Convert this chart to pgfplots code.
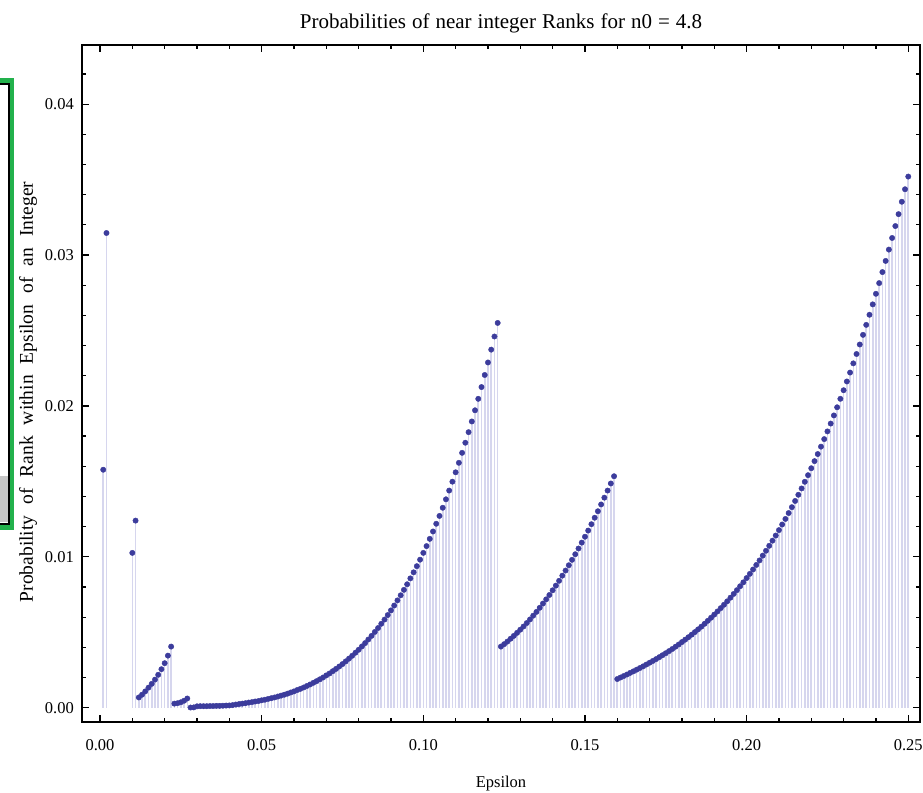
\documentclass[border=0pt]{standalone}
\usepackage{fontspec}
\setmainfont{Liberation Serif}
\usepackage{pgfplots}
\usepackage{pgfplotstable}
\pgfplotsset{compat=1.18}
\definecolor{dotcol}{RGB}{60,60,156}
\definecolor{stemcol}{RGB}{214,214,238}
\definecolor{boxgreen}{RGB}{34,177,76}
\newcommand{\ts}{\hspace{6pt}}
\newcommand{\ls}{\hspace{11pt}}
\pgfplotstableread{
x y
0.001 0.01577
0.002 0.03146
0.010 0.01026
0.011 0.01240
0.012 0.00068
0.013 0.00086
0.014 0.00108
0.015 0.00133
0.016 0.00158
0.017 0.00186
0.018 0.00218
0.019 0.00255
0.020 0.00295
0.021 0.00345
0.022 0.00405
0.023 0.00027
0.024 0.00030
0.025 0.00036
0.026 0.00046
0.027 0.00061
0.028 0.00001
0.029 0.00002
0.030 0.00009
0.031 0.00010
0.032 0.00010
0.033 0.00010
0.034 0.00011
0.035 0.00011
0.036 0.00012
0.037 0.00012
0.038 0.00013
0.039 0.00014
0.040 0.00015
0.041 0.00017
0.042 0.00021
0.043 0.00024
0.044 0.00027
0.045 0.00030
0.046 0.00034
0.047 0.00037
0.048 0.00041
0.049 0.00044
0.050 0.00049
0.051 0.00053
0.052 0.00058
0.053 0.00063
0.054 0.00068
0.055 0.00074
0.056 0.00080
0.057 0.00086
0.058 0.00093
0.059 0.00101
0.060 0.00108
0.061 0.00117
0.062 0.00125
0.063 0.00134
0.064 0.00144
0.065 0.00154
0.066 0.00165
0.067 0.00176
0.068 0.00188
0.069 0.00200
0.070 0.00214
0.071 0.00227
0.072 0.00242
0.073 0.00257
0.074 0.00273
0.075 0.00289
0.076 0.00307
0.077 0.00325
0.078 0.00344
0.079 0.00364
0.080 0.00384
0.081 0.00406
0.082 0.00428
0.083 0.00452
0.084 0.00476
0.085 0.00502
0.086 0.00528
0.087 0.00556
0.088 0.00584
0.089 0.00614
0.090 0.00645
0.091 0.00677
0.092 0.00711
0.093 0.00745
0.094 0.00781
0.095 0.00818
0.096 0.00857
0.097 0.00897
0.098 0.00938
0.099 0.00981
0.100 0.01026
0.101 0.01071
0.102 0.01119
0.103 0.01168
0.104 0.01219
0.105 0.01271
0.106 0.01325
0.107 0.01381
0.108 0.01439
0.109 0.01498
0.110 0.01560
0.111 0.01623
0.112 0.01689
0.113 0.01756
0.114 0.01826
0.115 0.01897
0.116 0.01971
0.117 0.02047
0.118 0.02125
0.119 0.02205
0.120 0.02288
0.121 0.02373
0.122 0.02460
0.123 0.02550
0.124 0.00405
0.125 0.00421
0.126 0.00438
0.127 0.00457
0.128 0.00476
0.129 0.00496
0.130 0.00517
0.131 0.00538
0.132 0.00561
0.133 0.00585
0.134 0.00610
0.135 0.00635
0.136 0.00662
0.137 0.00690
0.138 0.00718
0.139 0.00747
0.140 0.00778
0.141 0.00809
0.142 0.00841
0.143 0.00875
0.144 0.00909
0.145 0.00944
0.146 0.00980
0.147 0.01017
0.148 0.01055
0.149 0.01094
0.150 0.01133
0.151 0.01174
0.152 0.01216
0.153 0.01259
0.154 0.01302
0.155 0.01347
0.156 0.01392
0.157 0.01439
0.158 0.01486
0.159 0.01534
0.160 0.00190
0.161 0.00200
0.162 0.00210
0.163 0.00220
0.164 0.00231
0.165 0.00241
0.166 0.00252
0.167 0.00263
0.168 0.00274
0.169 0.00286
0.170 0.00298
0.171 0.00310
0.172 0.00322
0.173 0.00335
0.174 0.00348
0.175 0.00361
0.176 0.00375
0.177 0.00389
0.178 0.00404
0.179 0.00419
0.180 0.00435
0.181 0.00451
0.182 0.00467
0.183 0.00484
0.184 0.00501
0.185 0.00519
0.186 0.00537
0.187 0.00556
0.188 0.00576
0.189 0.00596
0.190 0.00617
0.191 0.00638
0.192 0.00660
0.193 0.00682
0.194 0.00705
0.195 0.00729
0.196 0.00754
0.197 0.00779
0.198 0.00805
0.199 0.00831
0.200 0.00859
0.201 0.00887
0.202 0.00916
0.203 0.00946
0.204 0.00976
0.205 0.01008
0.206 0.01040
0.207 0.01073
0.208 0.01107
0.209 0.01141
0.210 0.01177
0.211 0.01214
0.212 0.01251
0.213 0.01290
0.214 0.01329
0.215 0.01370
0.216 0.01411
0.217 0.01453
0.218 0.01497
0.219 0.01541
0.220 0.01587
0.221 0.01634
0.222 0.01681
0.223 0.01730
0.224 0.01780
0.225 0.01831
0.226 0.01883
0.227 0.01937
0.228 0.01991
0.229 0.02047
0.230 0.02104
0.231 0.02162
0.232 0.02221
0.233 0.02282
0.234 0.02344
0.235 0.02407
0.236 0.02471
0.237 0.02537
0.238 0.02604
0.239 0.02673
0.240 0.02743
0.241 0.02814
0.242 0.02887
0.243 0.02961
0.244 0.03036
0.245 0.03113
0.246 0.03192
0.247 0.03271
0.248 0.03353
0.249 0.03436
0.250 0.03520
}\probdata
\begin{document}
\begin{tikzpicture}[x=1pt,y=1pt]
\useasboundingbox (0,0) rectangle (923,792);
% partial window at the left edge of the screenshot
\fill[boxgreen] (-5,262) rectangle (14,714);
\fill[white] (-5,268) rectangle (9,708);
\draw[black, line width=1.5pt] (-5,268) rectangle (9,708);
\fill[gray!45] (-5,270) rectangle (8,316);
\begin{axis}[
  at={(82pt,70pt)}, anchor=south west, scale only axis,
  width=838pt, height=677pt,
  xmin=-0.00557, xmax=0.25363, ymin=-0.000948, ymax=0.04392,
  axis line style={line width=1.5pt},
  scaled ticks=false,
  xtick={0,0.05,0.1,0.15,0.2,0.25},
  xticklabels={0.00,0.05,0.10,0.15,0.20,0.25},
  minor xtick={0.01,0.02,0.03,0.04,0.06,0.07,0.08,0.09,0.11,0.12,0.13,0.14,0.16,0.17,0.18,0.19,0.21,0.22,0.23,0.24},
  ytick={0,0.01,0.02,0.03,0.04},
  yticklabels={0.00,0.01,0.02,0.03,0.04},
  minor ytick={0.002,0.004,0.006,0.008,0.012,0.014,0.016,0.018,0.022,0.024,0.026,0.028,0.032,0.034,0.036,0.038,0.042},
  tick align=inside,
  major tick length=7pt, minor tick length=4pt,
  tick style={black, line width=1.2pt},
  ticklabel style={font=\fontsize{16.5}{18}\selectfont},
  xticklabel style={anchor=center, yshift=-23pt},
  yticklabel style={anchor=east, inner sep=0pt, xshift=-8pt},
  title={Probabilities\ts of\ts near\ts integer\ts Ranks\ts for\ts n0\ts =\ts 4.8},
  title style={at={(axis description cs:0.5,1.023)}, anchor=center, font=\fontsize{21}{24}\selectfont},
  xlabel={Epsilon},
  xlabel style={at={(axis description cs:0.5,-0.0915)}, anchor=center, font=\fontsize{16.5}{18}\selectfont},
  ylabel={Probability\ls of\ls Rank\ls within\ls Epsilon\ls of\ls an\ls Integer},
  ylabel style={at={(axis description cs:-0.0644,0.4875)}, anchor=center, font=\fontsize{19.5}{21}\selectfont},
]
\addplot[ycomb, draw=stemcol, line width=1.6pt, no marks] table {\probdata};
\addplot[only marks, mark=*, mark size=2.7pt, draw=dotcol, fill=dotcol] table {\probdata};
\end{axis}
\end{tikzpicture}
\end{document}
